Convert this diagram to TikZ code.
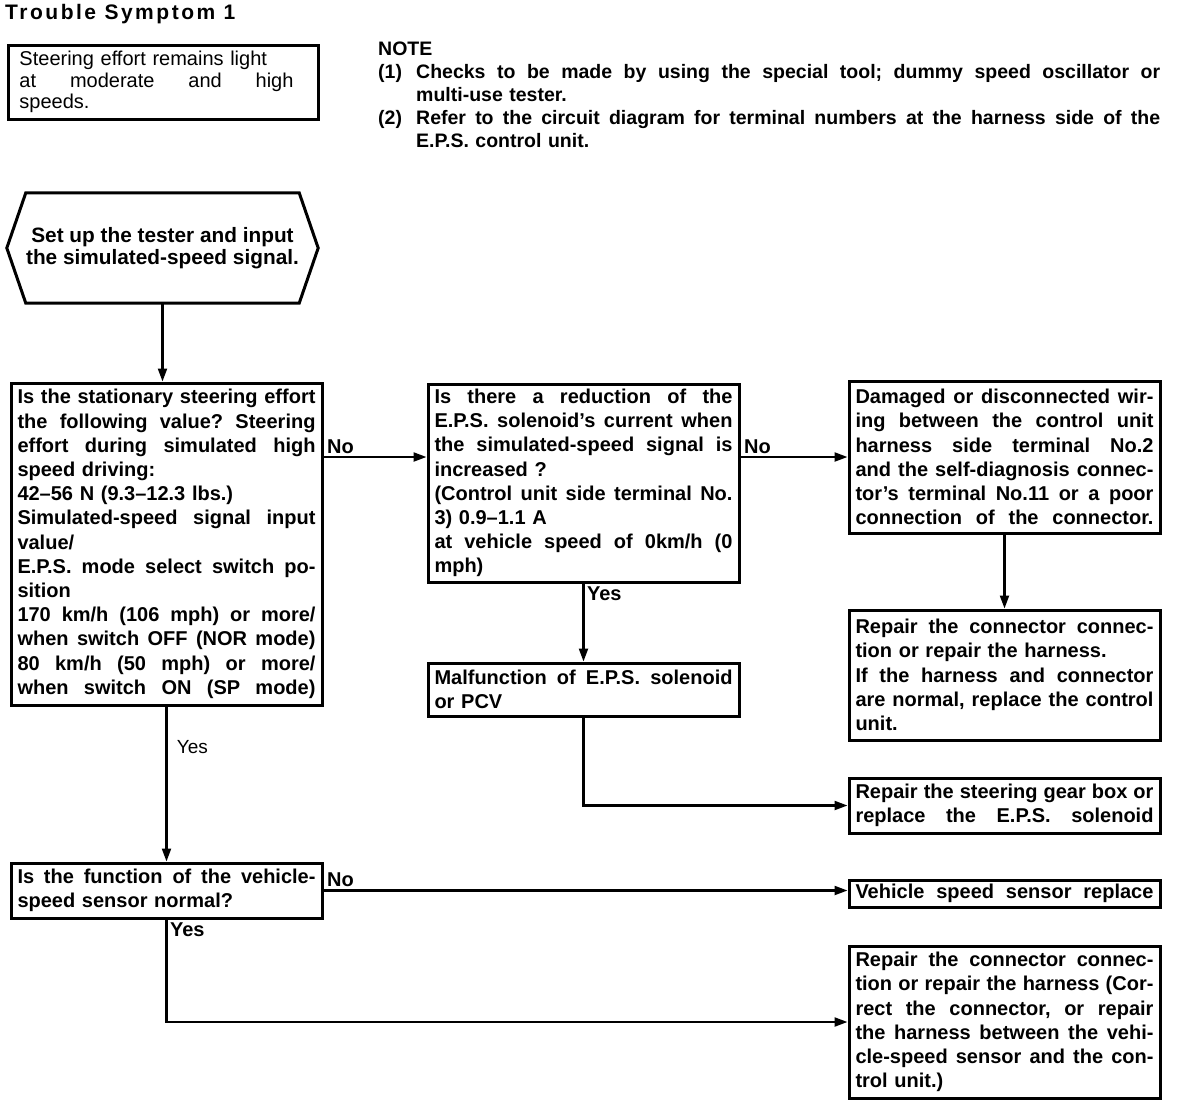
\documentclass[tikz,border=0pt]{standalone}
\usepackage{fontspec}
\setmainfont{Liberation Sans}
\newfontfamily\headfont{Liberation Sans}[LetterSpace=12]
\usetikzlibrary{arrows.meta,calc}
\setlength{\parindent}{0pt}

% one justified line of a given width, and of a box
\newcommand{\jlw}[2]{\makebox[#1][s]{\frenchspacing\spaceskip=.278em plus 1fil\relax #2}}
\newcommand{\jl}[1]{\jlw{\hsize}{#1}}
\newcommand{\boxfont}{\bfseries\fontsize{20}{24.2}\selectfont}

\tikzset{
  box/.style={draw, line width=3pt, anchor=north west, minimum width=311pt,
    inner xsep=6.5pt, inner ysep=2pt, text width=298pt, align=left, font=\boxfont},
  flow/.style={line width=2.2pt, -{Triangle[length=13pt,width=9pt]}},
  lbl/.style={font=\boxfont, inner sep=2.5pt},
}

\begin{document}
\begin{tikzpicture}[x=1pt, y=-1pt, line cap=butt, line join=miter]
  \useasboundingbox (0,0) rectangle (1200,1104);

  % heading and notes
  \node (title) [anchor=base west, inner sep=0, font=\headfont\bfseries\fontsize{21}{24}\selectfont]
    at (5,19) {Trouble Symptom 1};
  \node (symptom) [draw, line width=3pt, anchor=north west, minimum width=310pt, minimum height=74pt,
    inner xsep=11.5pt, inner ysep=2pt, text width=287pt, align=left, font=\fontsize{20}{21.5}\selectfont]
    at (6.5,43.5) {Steering effort remains light\\
      \jlw{274pt}{at moderate and high}\\
      speeds.};
  \node (note) [anchor=base west, inner sep=0, text width=782pt, align=left,
    font=\bfseries\fontsize{19.5}{23}\selectfont] at (378,55) {NOTE\\
    \makebox[38pt][l]{(1)}\jlw{744pt}{Checks to be made by using the special tool; dummy speed oscillator or}\\
    \hspace*{38pt}multi-use tester.\\
    \makebox[38pt][l]{(2)}\jlw{744pt}{Refer to the circuit diagram for terminal numbers at the harness side of the}\\
    \hspace*{38pt}E.P.S. control unit.};

  % start
  \node (start) [minimum width=311pt, minimum height=110pt, align=center,
    font=\bfseries\fontsize{20.8}{22}\selectfont] at (162.5,248)
    {Set up the tester and input\\the simulated-speed signal.};
  \draw[line width=3pt] ([xshift=19pt]start.north west) -- (start.west) -- ([xshift=19pt]start.south west)
    -- ([xshift=-19pt]start.south east) -- (start.east) -- ([xshift=-19pt]start.north east) -- cycle;

  % left column
  \node (q1) [box, minimum height=322pt] at (9.5,381.5) {%
    \jl{Is the stationary steering effort}\\
    \jl{the following value? Steering}\\
    \jl{effort during simulated high}\\
    speed driving:\\
    42--56 N (9.3--12.3 lbs.)\\
    \jl{Simulated-speed signal input}\\
    value/\\
    \jl{E.P.S. mode select switch po-}\\
    sition\\
    \jl{170 km/h (106 mph) or more/}\\
    \jl{when switch OFF (NOR mode)}\\
    \jl{80 km/h (50 mph) or more/}\\
    \jl{when switch ON (SP mode)}};
  \node (q3) [box, minimum height=55pt] at (9.5,861.5) {%
    \jl{Is the function of the vehicle-}\\
    speed sensor normal?};

  % middle column
  \node (q2) [box, minimum height=198pt] at (426.5,382.5) {%
    \jl{Is there a reduction of the}\\
    \jl{E.P.S. solenoid's current when}\\
    \jl{the simulated-speed signal is}\\
    increased ?\\
    \jl{(Control unit side terminal No.}\\
    3) 0.9--1.1 A\\
    \jl{at vehicle speed of 0km/h (0}\\
    mph)};
  \node (cause2) [box, minimum height=53pt] at (426.5,661.5) {%
    \jl{Malfunction of E.P.S. solenoid}\\
    or PCV};

  % right column
  \node (cause1) [box, minimum height=152pt] at (847.5,379.5) {%
    \jl{Damaged or disconnected wir-}\\
    \jl{ing between the control unit}\\
    \jl{harness side terminal No.2}\\
    \jl{and the self-diagnosis connec-}\\
    \jl{tor's terminal No.11 or a poor}\\
    \jl{connection of the connector.}};
  \node (fix1) [box, minimum height=130pt] at (847.5,608.5) {%
    \jl{Repair the connector connec-}\\
    tion or repair the harness.\\
    \jl{If the harness and connector}\\
    \jl{are normal, replace the control}\\
    unit.};
  \node (fix2) [box, minimum height=55pt] at (847.5,776.5) {%
    \jl{Repair the steering gear box or}\\
    \jl{replace the E.P.S. solenoid}};
  \node (fix3) [box, minimum height=27pt] at (847.5,878.5) {%
    \jl{Vehicle speed sensor replace}};
  \node (fix4) [box, minimum height=152pt] at (847.5,944.5) {%
    \jl{Repair the connector connec-}\\
    \jl{tion or repair the harness (Cor-}\\
    \jl{rect the connector, or repair}\\
    \jl{the harness between the vehi-}\\
    \jl{cle-speed sensor and the con-}\\
    trol unit.)};

  % connectors
  \coordinate (noA) at ([yshift=-75.5pt]q1.north east);
  \coordinate (noB) at ([yshift=-74.5pt]q2.north east);
  \draw[flow] (start.south) -- (start.south |- q1.north);
  \draw[flow] (noA) -- (noA -| q2.west) node[lbl, pos=0, anchor=south west] {No};
  \draw[flow] (noB) -- (noB -| cause1.west) node[lbl, pos=0, anchor=south west] {No};
  \draw[flow] (cause1.south) -- (fix1.north);
  \draw[flow] (q2.south) -- (cause2.north) node[lbl, pos=0, anchor=north west] {Yes};
  \draw[flow] (cause2.south) |- (fix2.west);
  \draw[flow] (q1.south) -- (q1.south |- q3.north)
    node[pos=0.26, right=6pt, font=\fontsize{19}{22}\selectfont] {Yes};
  \draw[flow] (q3.east) -- (q3.east -| fix3.west) node[lbl, pos=0, anchor=south west] {No};
  \draw[flow] (q3.south) |- (fix4.west) node[lbl, pos=0, anchor=north west] {Yes};
\end{tikzpicture}
\end{document}
